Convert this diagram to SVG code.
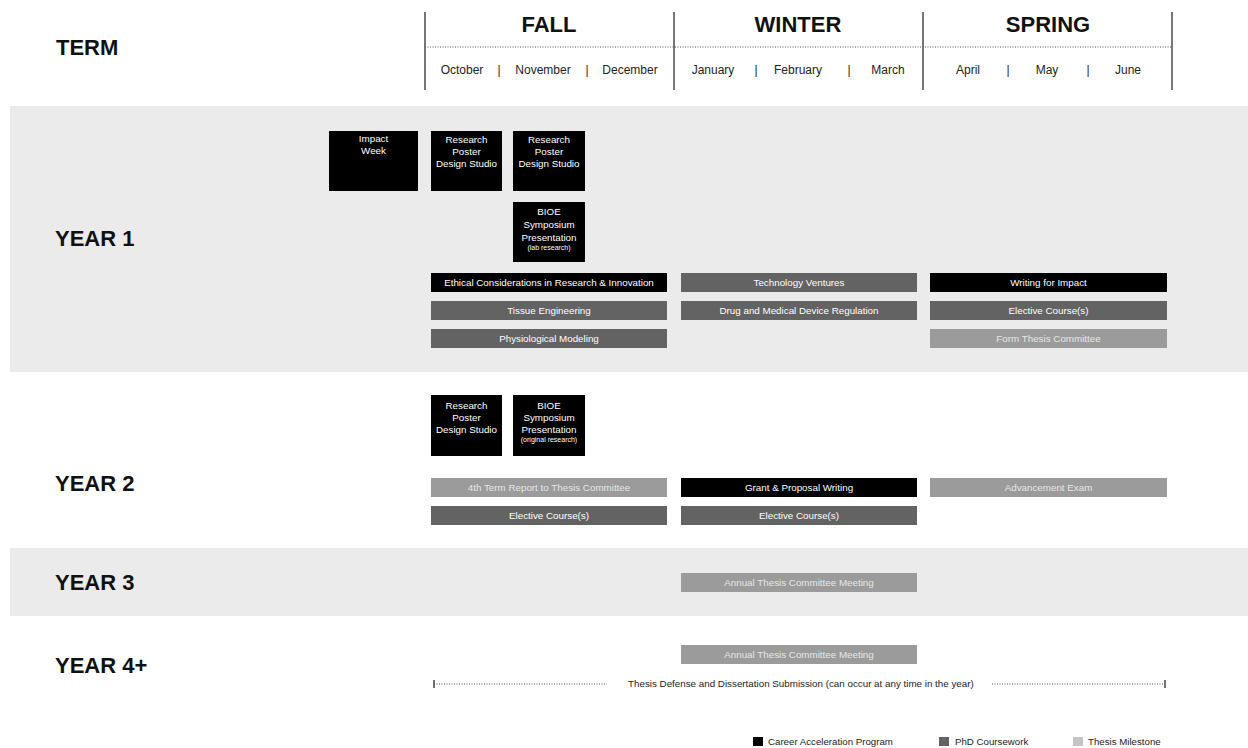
<svg xmlns="http://www.w3.org/2000/svg" width="1248" height="748" viewBox="0 0 1248 748">
<style>
text{font-family:"Liberation Sans",Arial,sans-serif}
.season{font-size:22px;font-weight:bold;fill:#111;text-anchor:middle}
.month{font-size:12px;fill:#222;text-anchor:middle}
.year{font-size:22px;font-weight:bold;fill:#111}
.cap{fill:#000}
.phd{fill:#636363}
.mil{fill:#9b9b9b}
.bt{font-size:9.8px;fill:#fff;text-anchor:middle}
.mt{font-size:9.8px;fill:#e6e6e6;text-anchor:middle}
.small{font-size:7px;fill:#fff;text-anchor:middle}
.vl{stroke:#555;stroke-width:1.6}
.dot{stroke:#555;stroke-width:1;stroke-dasharray:1 1.5}
.leg{font-size:9.7px;fill:#222}
</style>
<rect width="1248" height="748" fill="#fff"/>
<rect x="10" y="106" width="1238" height="266" fill="#ebebeb"/>
<rect x="10" y="548" width="1238" height="68" fill="#ebebeb"/>

<g id="header">
<text x="56" y="55" class="year">TERM</text>
<line class="vl" x1="425" y1="12" x2="425" y2="90"/>
<line class="vl" x1="674" y1="12" x2="674" y2="90"/>
<line class="vl" x1="923" y1="12" x2="923" y2="90"/>
<line class="vl" x1="1172" y1="12" x2="1172" y2="90"/>
<line class="dot" x1="425" y1="47" x2="1172" y2="47"/>
<text x="549" y="32" class="season">FALL</text>
<text x="798" y="32" class="season">WINTER</text>
<text x="1048" y="32" class="season">SPRING</text>
<text x="462" y="74" class="month">October</text>
<text x="499" y="74" class="month">|</text>
<text x="543" y="74" class="month">November</text>
<text x="587" y="74" class="month">|</text>
<text x="630" y="74" class="month">December</text>
<text x="713" y="74" class="month">January</text>
<text x="756" y="74" class="month">|</text>
<text x="798" y="74" class="month">February</text>
<text x="849" y="74" class="month">|</text>
<text x="888" y="74" class="month">March</text>
<text x="968" y="74" class="month">April</text>
<text x="1008" y="74" class="month">|</text>
<text x="1047" y="74" class="month">May</text>
<text x="1088" y="74" class="month">|</text>
<text x="1128" y="74" class="month">June</text>
</g>

<g id="year-labels">
<text x="55" y="246" class="year">YEAR 1</text>
<text x="55" y="491" class="year">YEAR 2</text>
<text x="55" y="590" class="year">YEAR 3</text>
<text x="55" y="673" class="year">YEAR 4+</text>
</g>

<g id="y1-impact-week"><rect class="cap" x="329" y="131" width="89" height="60"/><text class="bt" x="373.5" y="142">Impact</text><text class="bt" x="373.5" y="154">Week</text></g>
<g id="y1-poster-1"><rect class="cap" x="431" y="131" width="71" height="60"/><text class="bt" x="466.5" y="143">Research</text><text class="bt" x="466.5" y="155">Poster</text><text class="bt" x="466.5" y="167">Design Studio</text></g>
<g id="y1-poster-2"><rect class="cap" x="513" y="131" width="72" height="60"/><text class="bt" x="549" y="143">Research</text><text class="bt" x="549" y="155">Poster</text><text class="bt" x="549" y="167">Design Studio</text></g>
<g id="y1-bioe"><rect class="cap" x="513" y="202" width="72" height="60"/><text class="bt" x="549" y="215">BIOE</text><text class="bt" x="549" y="228">Symposium</text><text class="bt" x="549" y="241">Presentation</text><text class="small" x="549" y="250">(lab research)</text></g>

<g id="y1-ethical"><rect class="cap" x="431" y="273" width="236" height="19"/><text class="bt" x="549" y="286">Ethical Considerations in Research &amp; Innovation</text></g>
<g id="y1-tissue"><rect class="phd" x="431" y="301" width="236" height="19"/><text class="bt" x="549" y="314">Tissue Engineering</text></g>
<g id="y1-physio"><rect class="phd" x="431" y="329" width="236" height="19"/><text class="bt" x="549" y="342">Physiological Modeling</text></g>
<g id="y1-tech"><rect class="phd" x="681" y="273" width="236" height="19"/><text class="bt" x="799" y="286">Technology Ventures</text></g>
<g id="y1-drug"><rect class="phd" x="681" y="301" width="236" height="19"/><text class="bt" x="799" y="314">Drug and Medical Device Regulation</text></g>
<g id="y1-writing"><rect class="cap" x="930" y="273" width="237" height="19"/><text class="bt" x="1048.5" y="286">Writing for Impact</text></g>
<g id="y1-elective"><rect class="phd" x="930" y="301" width="237" height="19"/><text class="bt" x="1048.5" y="314">Elective Course(s)</text></g>
<g id="y1-form"><rect class="mil" x="930" y="329" width="237" height="19"/><text class="mt" x="1048.5" y="342">Form Thesis Committee</text></g>

<g id="y2-poster"><rect class="cap" x="431" y="395" width="71" height="61"/><text class="bt" x="466.5" y="409">Research</text><text class="bt" x="466.5" y="421">Poster</text><text class="bt" x="466.5" y="433">Design Studio</text></g>
<g id="y2-bioe"><rect class="cap" x="513" y="395" width="72" height="61"/><text class="bt" x="549" y="409">BIOE</text><text class="bt" x="549" y="421">Symposium</text><text class="bt" x="549" y="433">Presentation</text><text class="small" x="549" y="442">(original research)</text></g>
<g id="y2-report"><rect class="mil" x="431" y="478" width="236" height="19"/><text class="mt" x="549" y="491">4th Term Report to Thesis Committee</text></g>
<g id="y2-elective-fall"><rect class="phd" x="431" y="506" width="236" height="19"/><text class="bt" x="549" y="519">Elective Course(s)</text></g>
<g id="y2-grant"><rect class="cap" x="681" y="478" width="236" height="19"/><text class="bt" x="799" y="491">Grant &amp; Proposal Writing</text></g>
<g id="y2-elective-winter"><rect class="phd" x="681" y="506" width="236" height="19"/><text class="bt" x="799" y="519">Elective Course(s)</text></g>
<g id="y2-advancement"><rect class="mil" x="930" y="478" width="237" height="19"/><text class="mt" x="1048.5" y="491">Advancement Exam</text></g>

<g id="y3-annual"><rect class="mil" x="681" y="573" width="236" height="19"/><text class="mt" x="799" y="586">Annual Thesis Committee Meeting</text></g>
<g id="y4-annual"><rect class="mil" x="681" y="645" width="236" height="19"/><text class="mt" x="799" y="658">Annual Thesis Committee Meeting</text></g>

<g id="connectors">
<line class="dot" x1="434" y1="684" x2="607" y2="684"/>
<line x1="434" y1="680" x2="434" y2="688" stroke="#444" stroke-width="1.5"/>
<line class="dot" x1="992" y1="684" x2="1165" y2="684"/>
<line x1="1165" y1="680" x2="1165" y2="688" stroke="#444" stroke-width="1.5"/>
</g>
<g id="y4-defense"><text x="628" y="687" style="font-size:9.8px;fill:#222">Thesis Defense and Dissertation Submission (can occur at any time in the year)</text></g>

<g id="legend">
<rect class="cap" x="753" y="737" width="10" height="9"/><text class="leg" x="768" y="745">Career Acceleration Program</text>
<rect class="phd" x="939" y="737" width="10" height="9"/><text class="leg" x="955" y="745">PhD Coursework</text>
<rect x="1073" y="737" width="10" height="9" fill="#c4c4c4"/><text class="leg" x="1088" y="745">Thesis Milestone</text>
</g>
</svg>
